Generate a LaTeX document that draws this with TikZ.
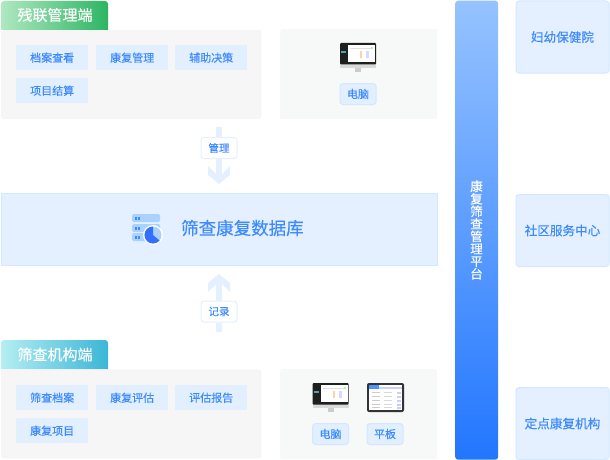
\documentclass[tikz,border=0pt]{standalone}
\usepackage{fontspec}
\setmainfont[FakeBold=0.3]{Noto Sans CJK SC}
\usetikzlibrary{arrows.meta,positioning}
\definecolor{txtblue}{HTML}{3E8BFF}
\definecolor{chipblue}{HTML}{E1EFFF}
\definecolor{edgeblue}{HTML}{D3E7FF}
\definecolor{paleblue}{HTML}{E4F0FF}
\definecolor{panelgray}{HTML}{F6F6F6}
\definecolor{devgray}{HTML}{F7F8F8}
\definecolor{barblue}{HTML}{A9D2FF}
\definecolor{plattop}{HTML}{96C3FF}
\definecolor{platbot}{HTML}{2276FF}
\definecolor{greenlight}{HTML}{AEE8C0}
\definecolor{greendark}{HTML}{2DB563}
\definecolor{cyanlight}{HTML}{B4EEF2}
\definecolor{cyandark}{HTML}{3BB6D6}
\tikzset{
  panel/.style={draw=black!4, line width=0.8pt, fill=panelgray, rounded corners=2pt, anchor=north west, minimum width=259.5pt, minimum height=88pt},
  devpanel/.style={fill=devgray, rounded corners=2pt, anchor=north west, minimum width=157pt, minimum height=90pt},
  chip/.style={fill=chipblue, text=txtblue, font=\fontsize{11}{11}\selectfont, minimum width=72pt, minimum height=25pt, inner sep=0pt, anchor=north west},
  devchip/.style={draw=edgeblue, line width=1pt, fill=chipblue, text=txtblue, rounded corners=3pt, font=\fontsize{11}{11}\selectfont, minimum width=36pt, minimum height=21pt, inner sep=0pt},
  sidebox/.style={draw=edgeblue, line width=1pt, fill=paleblue, text=txtblue, rounded corners=3pt, font=\fontsize{12.6}{12.6}\selectfont, minimum width=93pt, minimum height=72pt, inner sep=0pt, anchor=north west},
  tagbox/.style={draw=paleblue, line width=1pt, fill=white, text=txtblue, rounded corners=3pt, font=\fontsize{10.5}{10.5}\selectfont, minimum width=36pt, minimum height=21pt, inner sep=0pt},
  flowline/.style={draw=paleblue, line width=6pt},
  flowhead/.style={fill=paleblue},
  tabtext/.style={text=white, font=\fontsize{15}{15}\selectfont, inner sep=0pt},
  monitoricon/.pic={
    \fill[black!15] (-18,21) rectangle (18,25);
    \fill[black!20] (-3,25) rectangle (3,29);
    \fill[black!88, rounded corners=1pt] (-18,0) rectangle (18,21.5);
    \fill[white] (-10,2) rectangle (17,19);
    \fill[teal!70] (-17,8) rectangle (-12,10);
    \fill[black!12] (-8,5) rectangle (15,6);
    \fill[orange!35] (2,8) rectangle (4,15);
    \fill[green!35] (13,4) rectangle (15,6);
    \fill[blue!15] (8,8) rectangle (11,15);
  },
  padicon/.pic={
    \fill[black!80, rounded corners=2pt] (-18.5,0) rectangle (18.5,29);
    \fill[white] (-16.5,2) rectangle (16.5,27);
    \fill[blue!60!cyan!70] (-16.5,2) rectangle (-7,6);
    \fill[blue!20] (-7,4) rectangle (16.5,6);
    \foreach \r in {9,13,17,21,24} {
      \fill[black!20] (-14,\r) rectangle (-6,\r+1);
      \fill[black!15] (-2,\r) rectangle (6,\r+1);
      \fill[blue!20] (11,\r) rectangle (15,\r+1.5);
    }
  },
}
\newcommand{\headat}[2]{%
  \fill[flowhead, shift={(#1)}, yscale=#2] (-11,-18) -- (-3,-10) -- (3,-10) -- (11,-18) -- (11,-9) -- (0,0) -- (-11,-9) -- cycle;
}
\begin{document}
\begin{tikzpicture}[x=1pt,y=-1pt]
\useasboundingbox (0,0) rectangle (610,460);
% left column
\node[panel] (toppanel) at (1,30) {};
\node[panel] (lowpanel) at (1,369.5) {};
\path[left color=greenlight, right color=greendark] (1,30) [rounded corners=3pt] -- (1,1) -- (108,1) [sharp corners] -- (108,30) -- cycle;
\path[left color=cyanlight, right color=cyandark] (1,369) [rounded corners=3pt] -- (1,340) -- (108,340) [sharp corners] -- (108,369) -- cycle;
\node[tabtext] (toptab) at (55,15) {残联管理端};
\node[tabtext] (lowtab) at (55,354.5) {筛查机构端};
\node[chip] (a1) at (16,45) {档案查看};
\node[chip] (a2) at (96,45) {康复管理};
\node[chip] (a3) at (175,45) {辅助决策};
\node[chip] (a4) at (16,78) {项目结算};
\node[chip] (b1) at (16,385) {筛查档案};
\node[chip] (b2) at (96,385) {康复评估};
\node[chip] (b3) at (175,385) {评估报告};
\node[chip] (b4) at (16,418) {康复项目};
% devices
\node[devpanel] (topdev) at (280,29) {};
\node[devpanel] (lowdev) at (280,369) {};
\pic at (358,43) {monitoricon};
\pic at (330.5,383) {monitoricon};
\pic at (385.5,383) {padicon};
\node[devchip] (pc1) at (358,94) {电脑};
\node[devchip] (pc2) at (330.5,434) {电脑};
\node[devchip] (pad) at (385,434) {平板};
% database
\node[draw=edgeblue, line width=1pt, fill=paleblue, minimum width=436pt, minimum height=72pt, anchor=north west] (db) at (0.5,192.5) {};
\node[text=txtblue, font=\fontsize{17.5}{17.5}\selectfont, inner sep=0pt, anchor=west] (dbtxt) at (181,228) {筛查康复数据库};
\foreach \t in {214,224,233} {
  \fill[barblue, rounded corners=1.5pt] (132,\t) rectangle (160,\t+8);
  \fill[txtblue] (135,\t+2.5) rectangle (137,\t+5.5);
  \fill[txtblue] (138,\t+2.5) rectangle (140,\t+5.5);
}
\begin{scope}[shift={(153,235)},y=1pt]
\fill[white] (0,0) circle (10);
\fill[barblue] (0,0) circle (8.5);
\fill[txtblue!80!blue] (0,0) -- (90:8.5) arc (90:320:8.5) -- cycle;
\end{scope}
% flows
\node[tagbox] (mantag) at (219,148) {管理};
\node[tagbox] (rectag) at (219,311.5) {记录};
\coordinate (manstart) at (219,127);
\coordinate (mantip) at (219,184);
\coordinate (recstart) at (219,332);
\coordinate (rectip) at (219,274);
\draw[flowline] (manstart) -- (mantag.north);
\draw[flowline] (mantag.south) -- (219,178);
\draw[flowline] (recstart) -- (rectag.south);
\draw[flowline] (rectag.north) -- (219,280);
\headat{mantip}{1}
\headat{rectip}{-1}
% platform
\node[rounded corners=3pt, top color=plattop, bottom color=platbot, minimum width=43pt, minimum height=459pt, inner sep=0pt, anchor=north west] (plat) at (455,0.5) {};
\node[text=white, font=\fontsize{12.5}{12.5}\selectfont, align=center, text width=14pt, inner sep=0pt] (plattxt) at (476.5,230) {康\\复\\筛\\查\\管\\理\\平\\台};
% institutions
\node[sidebox] (s1) at (515.5,0.5) {妇幼保健院};
\node[sidebox] (s2) at (515.5,194) {社区服务中心};
\node[sidebox] (s3) at (515.5,387) {定点康复机构};
\end{tikzpicture}
\end{document}
